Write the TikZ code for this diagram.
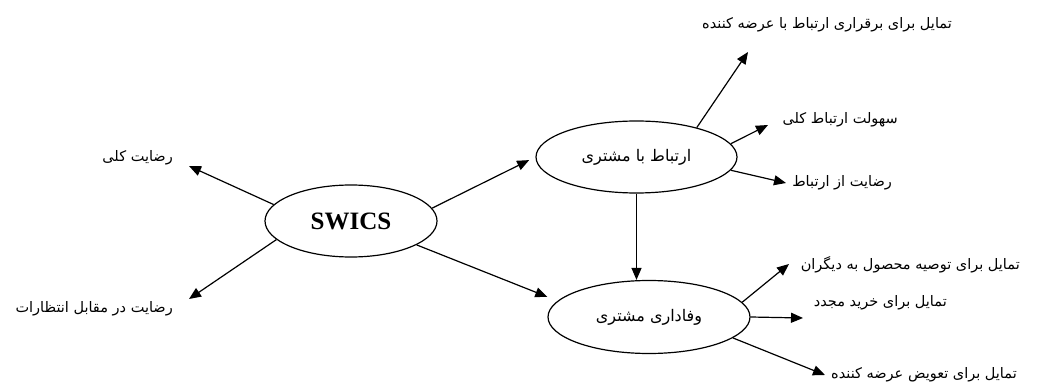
\documentclass[tikz,border=0pt]{standalone}
\usepackage{fontspec}
\setmainfont{Liberation Serif}
\newfontfamily\arabicfont[Script=Arabic]{DejaVu Sans}
\TeXXeTstate=1
\usepackage{tikz}
\usetikzlibrary{arrows.meta,shapes.geometric}
\newcommand{\fa}[1]{\arabicfont\beginR #1\endR}

\tikzset{
  oval/.style={draw,ellipse,line width=1.2pt,inner sep=0pt},
  lbl/.style={anchor=east,inner sep=0pt,font=\fontsize{14.5}{17}\selectfont},
  arr/.style={-{Triangle[length=12pt,width=10pt]},line width=1.2pt}
}

\begin{document}
\begin{tikzpicture}[x=1pt,y=-1pt]
    \useasboundingbox (0,0) rectangle (1048,387);

    \node[oval,minimum width=172pt,minimum height=72pt,font=\fontsize{25}{28}\selectfont\bfseries] (1) at (351,221) {SWICS};
    \node[oval,minimum width=201pt,minimum height=72pt,font=\fontsize{16}{19}\selectfont] (2) at (636.5,157) {\fa{ارتباط با مشتری}};
    \node[oval,minimum width=202pt,minimum height=73pt,font=\fontsize{16}{19}\selectfont] (3) at (649,317) {\fa{وفاداری مشتری}};

    \node[lbl] (4) at (173,158) {\fa{رضایت کلی}};
    \node[lbl] (5) at (173,309) {\fa{رضایت در مقابل انتظارات}};
    \node[lbl] (6) at (952,25) {\fa{تمایل برای برقراری ارتباط با عرضه کننده}};
    \node[lbl] (7) at (898,120) {\fa{سهولت ارتباط کلی}};
    \node[lbl] (8) at (892,183) {\fa{رضایت از ارتباط}};
    \node[lbl] (9) at (1020,265) {\fa{تمایل برای توصیه محصول به دیگران}};
    \node[lbl] (10) at (947,303) {\fa{تمایل برای خرید مجدد}};
    \node[lbl] (11) at (1017,375) {\fa{تمایل برای تعویض عرضه کننده}};

    \coordinate (a4) at (189,166);
    \coordinate (a5) at (189,299);
    \coordinate (a6) at (748,52);
    \coordinate (a7) at (768,125);
    \coordinate (a8) at (786,183);
    \coordinate (a9) at (789,264);
    \coordinate (a10) at (803,318);
    \coordinate (a11) at (825,375);

    \path[arr]
    (1.168) edge (a4)
    (1.194) edge (a5)
    (1.9) edge [shorten >=7pt] (2.west)
    (1.340) edge [shorten >=11pt] (3.170)
    (2.south) edge (3.north -| 2.south)
    (2.26) edge (a6)
    (2.8) edge (a7)
    (2.352) edge (a8)
    (3.9) edge (a9)
    (3.east) edge (a10)
    (3.346) edge (a11);
\end{tikzpicture}
\end{document}
